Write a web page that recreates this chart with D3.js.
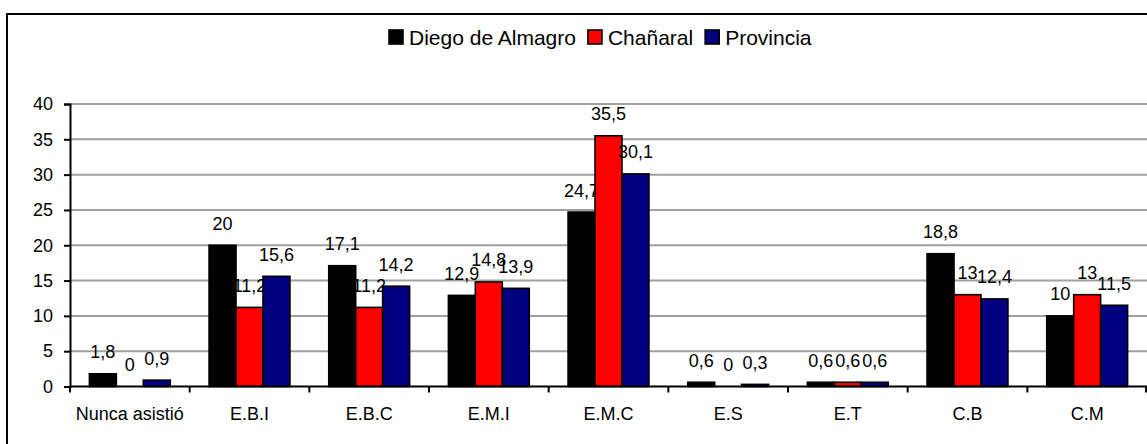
<!DOCTYPE html>
<html>
<head>
<meta charset="utf-8">
<script src="https://cdn.jsdelivr.net/npm/d3@7"></script>
<style>
  body { margin: 0; background: #fff; }
  svg { display: block; font-family: "Liberation Sans", Arial, sans-serif; }
</style>
</head>
<body>
<div id="result"></div>
<script>
// chart data
const categories = ['Nunca asistió', 'E.B.I', 'E.B.C', 'E.M.I', 'E.M.C', 'E.S', 'E.T', 'C.B', 'C.M'];
const series = ['Diego de Almagro', 'Chañaral', 'Provincia'];
const diegoValues = [1.8, 20, 17.1, 12.9, 24.7, 0.6, 0.6, 18.8, 10];
const chanaralValues = [0, 11.2, 11.2, 14.8, 35.5, 0, 0.6, 13, 13];
const provinciaValues = [0.9, 15.6, 14.2, 13.9, 30.1, 0.3, 0.6, 12.4, 11.5];
const yTicks = [0, 5, 10, 15, 20, 25, 30, 35, 40];
const colors = ['#000000', '#ff0000', '#000080'];

const width = 1147;
const height = 444;
const margin = { top: 104, bottom: 57.5, left: 70, right: 0 };

const svg = d3.select('#result')
    .append('svg')
    .attr('width', width)
    .attr('height', height);

// outer frame of the chart (runs off the right and bottom edge)
svg.append('rect')
    .attr('x', 7)
    .attr('y', 14)
    .attr('width', width + 20)
    .attr('height', height + 20)
    .attr('fill', 'none')
    .attr('stroke', '#000')
    .attr('stroke-width', 2);

const x = d3.scaleBand()
    .domain(categories)
    .range([margin.left, width - margin.right])
    .paddingInner(0)
    .paddingOuter(0);

const x1 = d3.scaleBand()
    .domain(series)
    .range([0, x.bandwidth()])
    .paddingInner(0)
    .paddingOuter(0.72);

const y = d3.scaleLinear()
    .domain([0, 40])
    .range([height - margin.bottom, margin.top]);

// grid lines
svg.append('g')
    .selectAll('line')
    .data(yTicks.filter(d => d > 0))
    .enter()
    .append('line')
        .attr('x1', margin.left)
        .attr('x2', width - margin.right)
        .attr('y1', d => y(d))
        .attr('y2', d => y(d))
        .attr('stroke', '#a0a0a0')
        .attr('stroke-width', 2);

// y axis
const yAxisG = svg.append('g')
    .attr('transform', `translate(${margin.left},0)`)
    .call(d3.axisLeft(y).tickValues(yTicks).tickSize(6).tickPadding(11));
yAxisG.select('.domain').attr('stroke', '#000').attr('stroke-width', 2);
yAxisG.selectAll('.tick line').attr('stroke', '#000').attr('stroke-width', 2);
yAxisG.selectAll('.tick text')
    .attr('font-size', 18)
    .attr('font-family', '"Liberation Sans", Arial, sans-serif')
    .attr('fill', '#000');

// bars
const table = series.map((s, i) => ({
    name: s,
    color: colors[i],
    values: [diegoValues, chanaralValues, provinciaValues][i]
}));

const fmt = v => String(v).replace('.', ',');

table.forEach(s => {
    const g = svg.append('g');
    const data = categories.map((c, j) => ({ cat: c, value: s.values[j] }));

    g.selectAll('rect')
        .data(data.filter(d => d.value > 0))
        .enter()
        .append('rect')
            .attr('x', d => x(d.cat) + x1(s.name))
            .attr('y', d => y(d.value))
            .attr('width', x1.bandwidth())
            .attr('height', d => y(0) - y(d.value))
            .attr('fill', s.color)
            .attr('stroke', '#000')
            .attr('stroke-width', 1.6);

    g.selectAll('text')
        .data(data)
        .enter()
        .append('text')
            .attr('x', d => x(d.cat) + x1(s.name) + x1.bandwidth() / 2)
            .attr('y', d => y(d.value) - 15.5)
            .attr('text-anchor', 'middle')
            .attr('font-size', 18)
            .attr('fill', '#000')
            .text(d => fmt(d.value));
});

// x axis
const xAxisG = svg.append('g');
xAxisG.append('line')
    .attr('x1', margin.left)
    .attr('x2', width - margin.right)
    .attr('y1', y(0))
    .attr('y2', y(0))
    .attr('stroke', '#000')
    .attr('stroke-width', 2);

const bounds = categories.map(c => x(c)).concat([x(categories[categories.length - 1]) + x.bandwidth() - 1]);
xAxisG.selectAll('.xtick')
    .data(bounds)
    .enter()
    .append('line')
        .attr('class', 'xtick')
        .attr('x1', d => d)
        .attr('x2', d => d)
        .attr('y1', y(0))
        .attr('y2', y(0) + 6)
        .attr('stroke', '#000')
        .attr('stroke-width', 2);

xAxisG.selectAll('.xlabel')
    .data(categories)
    .enter()
    .append('text')
        .attr('class', 'xlabel')
        .attr('x', d => x(d) + x.bandwidth() / 2)
        .attr('y', y(0) + 33)
        .attr('text-anchor', 'middle')
        .attr('font-size', 18)
        .attr('fill', '#000')
        .text(d => d);

// legend
const legend = svg.append('g');
let lx = 389;
table.forEach(s => {
    legend.append('rect')
        .attr('x', lx)
        .attr('y', 30)
        .attr('width', 14)
        .attr('height', 14)
        .attr('fill', s.color)
        .attr('stroke', '#000')
        .attr('stroke-width', 1.6);
    const t = legend.append('text')
        .attr('x', lx + 20)
        .attr('y', 44.5)
        .attr('font-size', 21)
        .attr('fill', '#000')
        .text(s.name);
    lx += 20 + t.node().getComputedTextLength() + 12;
});
</script>
</body>
</html>
